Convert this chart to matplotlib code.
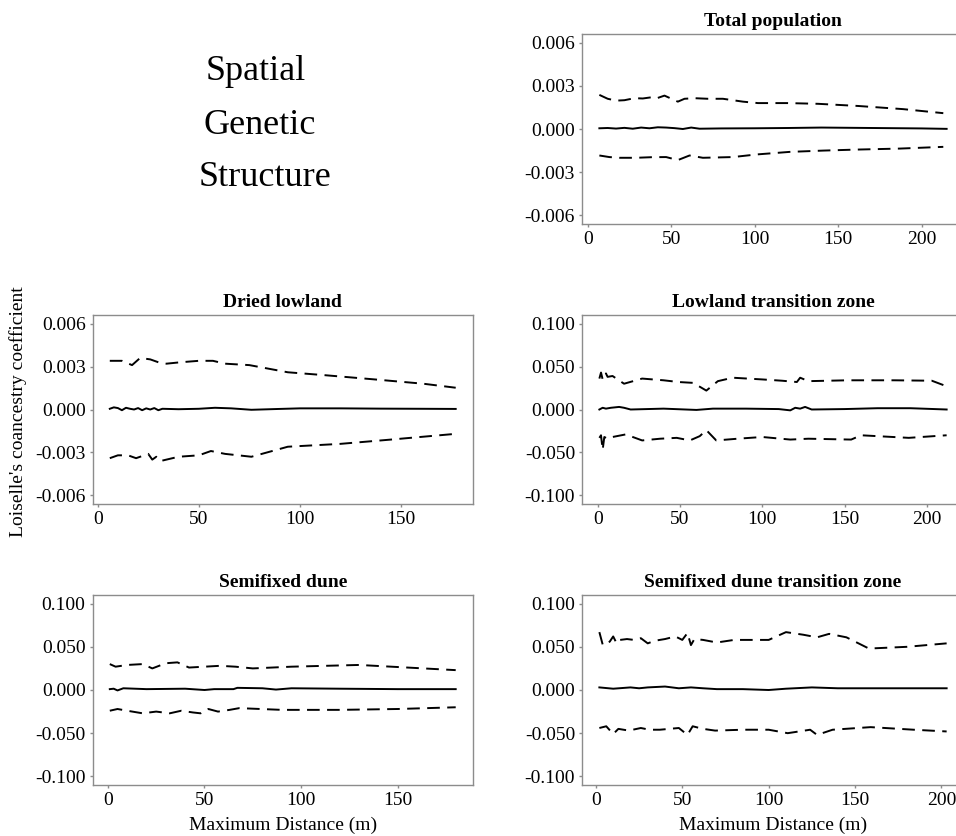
import matplotlib
matplotlib.use("Agg")
import matplotlib.pyplot as plt
from matplotlib.ticker import FormatStrFormatter

plt.rcParams['font.family'] = ['Liberation Serif', 'DejaVu Serif']
plt.rcParams['axes.unicode_minus'] = False

# Total population
tp_x_mean = [7, 12, 17, 22, 27, 32, 37, 42, 47, 52, 57, 62, 67, 80, 100, 120, 140, 160, 180, 200, 215]
tp_mean = [0.00005, 0.00007, 0.00003, 0.00008, 0.00002, 0.0001, 0.00005, 0.00012, 0.0001, 0.00006, 0.0,
           0.0001, 0.00002, 0.00004, 0.00005, 0.00007, 0.0001, 0.00008, 0.00006, 0.00004, 0.00001]
tp_x_up = [7, 12, 17, 22, 28, 33, 38, 41, 46, 54, 58, 64, 72, 81, 93, 102, 120, 138, 162, 189, 213]
tp_up = [0.00237, 0.0021, 0.00197, 0.002, 0.00214, 0.00212, 0.0022, 0.00212, 0.00232, 0.0019, 0.0021,
         0.00214, 0.0021, 0.0021, 0.0019, 0.0018, 0.0018, 0.00175, 0.0016, 0.00138, 0.0011]
tp_x_lo = [7, 13, 19, 29, 38, 47, 54, 61, 69, 87, 101, 121, 141, 161, 187, 213]
tp_lo = [-0.00184, -0.00195, -0.002, -0.002, -0.00196, -0.00195, -0.00216, -0.00184, -0.002, -0.00195,
         -0.00177, -0.00159, -0.0015, -0.00143, -0.00136, -0.00124]

# Dried lowland
dl_x_mean = [6, 8, 10, 12, 14, 16, 18, 20, 22, 24, 26, 28, 30, 32, 40, 50, 58, 66, 76, 90, 100, 120, 140, 160, 177]
dl_mean = [0.00005, 0.00015, 0.0001, -0.00005, 0.00012, 0.00005, 0.0, 0.0001, -0.00005, 0.00008, 0.0,
           0.0001, -0.00005, 0.00005, 0.00002, 0.00005, 0.00012, 0.00008, -0.00002, 0.00004, 0.00008,
           0.00008, 0.00006, 0.00005, 0.00004]
dl_x_up = [6, 12, 17, 21, 26, 30, 34, 41, 50, 57, 63, 75, 94, 112, 137, 161, 177]
dl_up = [0.0034, 0.0034, 0.0031, 0.0036, 0.0035, 0.0033, 0.0032, 0.0033, 0.0034, 0.0034, 0.0032,
         0.0031, 0.0026, 0.0024, 0.0021, 0.0018, 0.00152]
dl_x_lo = [6, 10, 15, 19, 23, 25, 27, 29, 31, 40, 50, 56, 63, 76, 94, 120, 145, 177]
dl_lo = [-0.0034, -0.0032, -0.0032, -0.0034, -0.0032, -0.0031, -0.0035, -0.0033, -0.0036, -0.0033,
         -0.0032, -0.0029, -0.0031, -0.0033, -0.0026, -0.0024, -0.0021, -0.0017]

# Lowland transition zone
lt_x_mean = [1, 3, 5, 8, 13, 16, 20, 40, 60, 70, 90, 110, 117, 120, 123, 126, 130, 150, 170, 190, 212]
lt_mean = [0.0, 0.002, 0.001, 0.002, 0.003, 0.002, 0.0, 0.001, -0.0005, 0.001, 0.001, 0.0005, -0.001,
           0.002, 0.001, 0.003, 0.0, 0.0005, 0.0015, 0.0015, 0.0]
lt_x_up = [1, 2, 3, 4, 5, 6, 9, 16, 27, 40, 49, 58, 66, 73, 82, 100, 112, 121, 123, 128, 152, 180, 203, 212]
lt_up = [0.036, 0.043, 0.035, 0.036, 0.042, 0.038, 0.039, 0.030, 0.036, 0.034, 0.032, 0.031, 0.022,
         0.033, 0.037, 0.035, 0.0335, 0.032, 0.037, 0.033, 0.034, 0.034, 0.0335, 0.027]
lt_x_lo = [1, 2, 3, 4, 6, 9, 17, 27, 38, 48, 56, 62, 66, 72, 85, 100, 117, 128, 154, 160, 189, 212]
lt_lo = [-0.033, -0.030, -0.047, -0.032, -0.034, -0.032, -0.029, -0.036, -0.034, -0.033, -0.036,
         -0.031, -0.024, -0.036, -0.034, -0.032, -0.035, -0.034, -0.035, -0.030, -0.033, -0.030]

# Semifixed dune
sd_x_mean = [1, 3, 5, 8, 20, 40, 50, 55, 65, 67, 80, 87, 95, 120, 150, 180]
sd_mean = [0.001, 0.0015, -0.0005, 0.002, 0.001, 0.0015, 0.0, 0.001, 0.001, 0.0025, 0.002, 0.0005,
           0.002, 0.0015, 0.001, 0.001]
sd_x_up = [1, 4, 10, 18, 23, 30, 36, 42, 50, 58, 66, 75, 95, 130, 155, 180]
sd_up = [0.030, 0.027, 0.029, 0.030, 0.025, 0.031, 0.032, 0.026, 0.027, 0.028, 0.027, 0.025, 0.027,
         0.029, 0.026, 0.023]
sd_x_lo = [1, 5, 10, 18, 25, 32, 38, 44, 48, 52, 57, 63, 68, 90, 120, 150, 180]
sd_lo = [-0.024, -0.022, -0.024, -0.027, -0.025, -0.027, -0.024, -0.026, -0.027, -0.022, -0.025,
         -0.023, -0.021, -0.023, -0.023, -0.022, -0.020]

# Semifixed dune transition zone
sdt_x_mean = [2, 10, 20, 25, 30, 40, 48, 55, 62, 70, 85, 100, 110, 125, 140, 160, 180, 203]
sdt_mean = [0.003, 0.0015, 0.003, 0.002, 0.003, 0.004, 0.002, 0.003, 0.002, 0.001, 0.001, 0.0,
            0.0015, 0.003, 0.002, 0.002, 0.002, 0.002]
sdt_x_up = [2, 4, 8, 10, 12, 14, 18, 22, 26, 28, 30, 34, 40, 46, 50, 53, 55, 57, 62, 70, 80, 100,
            110, 120, 128, 135, 145, 158, 180, 203]
sdt_up = [0.067, 0.052, 0.056, 0.062, 0.054, 0.058, 0.059, 0.058, 0.060, 0.057, 0.054, 0.057, 0.059,
          0.062, 0.058, 0.066, 0.052, 0.059, 0.058, 0.055, 0.058, 0.058, 0.067, 0.064, 0.061, 0.065,
          0.061, 0.048, 0.050, 0.054]
sdt_x_lo = [2, 6, 10, 13, 19, 26, 31, 37, 48, 53, 56, 62, 69, 85, 100, 111, 124, 128, 137, 159, 184, 203]
sdt_lo = [-0.044, -0.042, -0.051, -0.045, -0.047, -0.044, -0.046, -0.046, -0.044, -0.052, -0.042,
          -0.045, -0.047, -0.046, -0.046, -0.050, -0.046, -0.052, -0.046, -0.043, -0.046, -0.048]

titles = ["Total population", "Dried lowland", "Lowland transition zone",
          "Semifixed dune", "Semifixed dune transition zone"]
small_ticks = [-0.006, -0.003, 0.0, 0.003, 0.006]
big_ticks = [-0.1, -0.05, 0.0, 0.05, 0.1]
x_ticks = [0, 50, 100, 150, 200]
side_text = ["Spatial", "Genetic", "Structure"]

panels = [
    (tp_x_mean, tp_mean, tp_x_up, tp_up, tp_x_lo, tp_lo, small_ticks),
    (dl_x_mean, dl_mean, dl_x_up, dl_up, dl_x_lo, dl_lo, small_ticks),
    (lt_x_mean, lt_mean, lt_x_up, lt_up, lt_x_lo, lt_lo, big_ticks),
    (sd_x_mean, sd_mean, sd_x_up, sd_up, sd_x_lo, sd_lo, big_ticks),
    (sdt_x_mean, sdt_mean, sdt_x_up, sdt_up, sdt_x_lo, sdt_lo, big_ticks),
]

W, H = 956, 836
fig = plt.figure(figsize=(W / 100, H / 100), dpi=100)

# axes boxes in pixels: left, top, right, bottom
# the right column is cut off by the picture edge, so its box runs on past it
boxes = [(582, 34, 964, 224), (92.5, 315, 473, 504), (582, 315, 964, 504),
         (92.5, 595, 473, 785), (582, 595, 964, 785)]
extra = 40

grey = '#8c8c8c'
for i, (box, p) in enumerate(zip(boxes, panels)):
    l, t, r, b = box
    cut = r > W
    r_draw = r + extra if cut else r
    ax = fig.add_axes([l / W, 1 - b / H, (r_draw - l) / W, (b - t) / H])
    xm, ym, xu, yu, xl, yl, yt = p
    ax.plot(xm, ym, color='black', lw=1.4)
    ax.plot(xu, yu, color='black', lw=1.4, dashes=(6.5, 3.8))
    ax.plot(xl, yl, color='black', lw=1.4, dashes=(6.5, 3.8))
    ax.set_yticks(yt)
    ax.set_xticks(x_ticks)
    xmin = min(xm + xu + xl)
    xmax = max(xm + xu + xl)
    pad = 0.05 * (xmax - xmin)
    lo, hi = xmin - pad, xmax + pad
    if cut:
        hi = lo + (hi - lo) * (r_draw - l) / (r - l)
    ax.set_xlim(lo, hi)
    ax.set_ylim(yt[0] * 1.1, yt[-1] * 1.1)
    ax.yaxis.set_major_formatter(FormatStrFormatter('%.3f'))
    mid = (r - l) / 2 / (r_draw - l)  # centre of the uncut panel
    title = ax.set_title(titles[i], fontsize=14, fontweight='bold', pad=6)
    title.set_x(mid)
    for s in ax.spines.values():
        s.set_color(grey)
        s.set_linewidth(1.0)
    ax.tick_params(colors=grey, labelcolor='black', labelsize=14, length=2.5, width=1, pad=2.5)
    if i >= 3:
        ax.set_xlabel("Maximum Distance (m)", fontsize=14)
        ax.xaxis.set_label_coords(mid, -0.165)

fig.text(0.019, 0.508, "Loiselle's coancestry coefficient", rotation=90,
         ha='center', va='center', fontsize=14)

centers = [(256, 72), (260, 125), (265, 177)]
for txt, (cx, cy) in zip(side_text, centers):
    fig.text(cx / W, 1 - cy / H, txt, ha='center', va='center', fontsize=26)

fig.savefig("out.png", dpi=100)
